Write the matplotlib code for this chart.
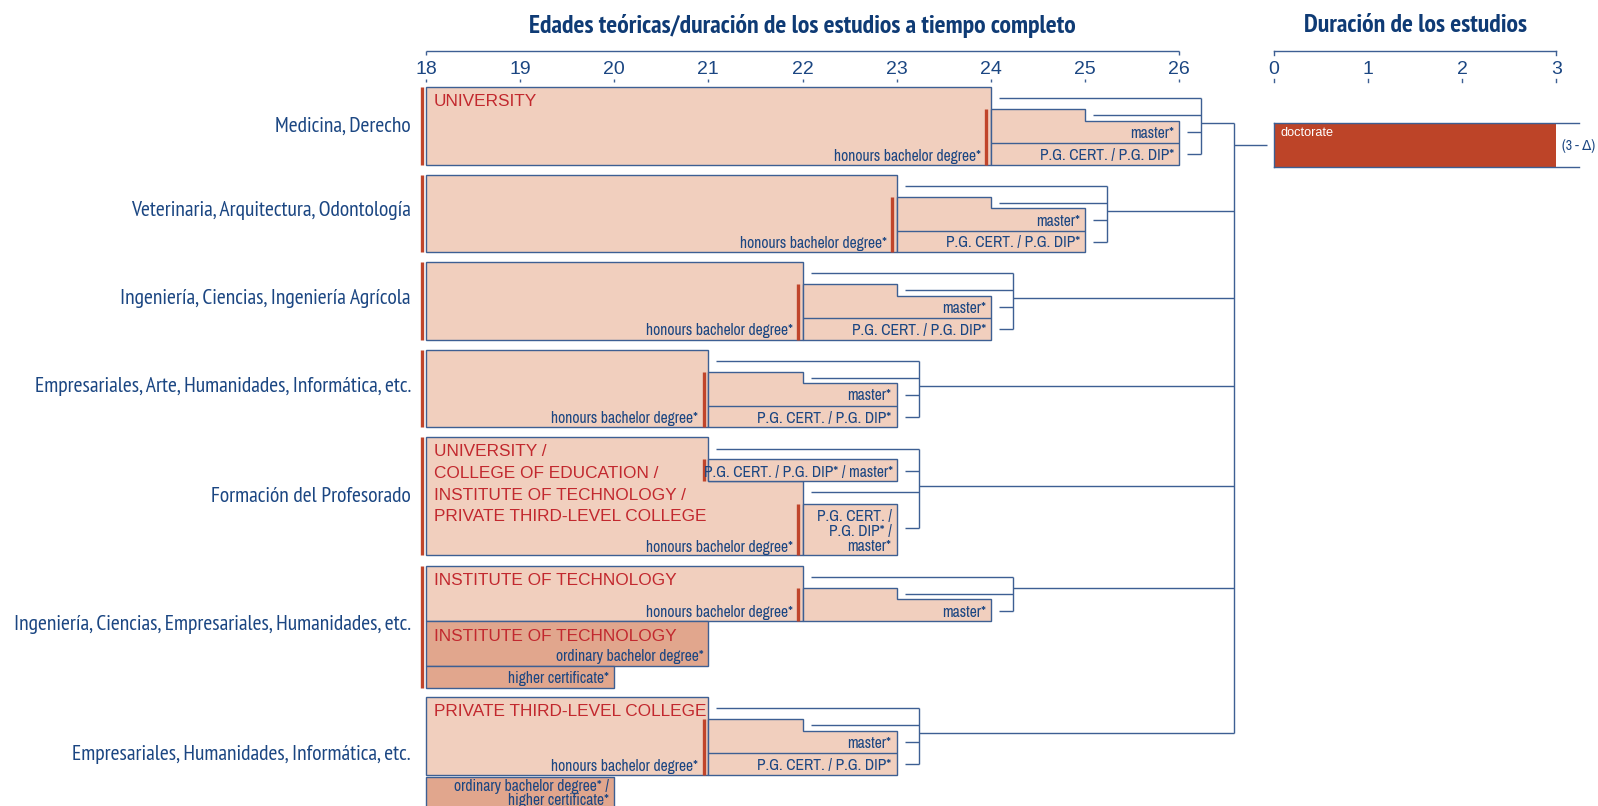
import matplotlib
matplotlib.use("Agg")
import matplotlib.pyplot as plt
from matplotlib.patches import Polygon, Rectangle
from matplotlib import font_manager

# ---------------- data ----------------
age_ticks = [18, 19, 20, 21, 22, 23, 24, 25, 26]
dur_ticks = [0, 1, 2, 3]
main_title = "Edades teóricas/duración de los estudios a tiempo completo"
dur_title = "Duración de los estudios"

row_labels = ["Medicina, Derecho",
              "Veterinaria, Arquitectura, Odontología",
              "Ingeniería, Ciencias, Ingeniería Agrícola",
              "Empresariales, Arte, Humanidades, Informática, etc.",
              "Formación del Profesorado",
              "Ingeniería, Ciencias, Empresariales, Humanidades, etc.",
              "Empresariales, Humanidades, Informática, etc."]

start_age = 18
honours_end = [24, 23, 22, 21, 22, 22, 21]
pg_years = 1
master_years = 2
institution = ["UNIVERSITY", "", "", "",
               "UNIVERSITY /\nCOLLEGE OF EDUCATION /\nINSTITUTE OF TECHNOLOGY /\nPRIVATE THIRD-LEVEL COLLEGE",
               "INSTITUTE OF TECHNOLOGY",
               "PRIVATE THIRD-LEVEL COLLEGE"]
post_kind = ["mp", "mp", "mp", "mp", "teacher", "m", "mp"]
left_bar = [True, True, True, True, True, True, False]

# teacher training row
teacher_ba_end = 21
teacher_pg_a = (21, 23)
teacher_pg_b = (22, 23)
# institute of technology lower awards
it_ordinary = (18, 21)
it_higher = (18, 20)
private_ord_higher = (18, 20)

doc_years = 3

hon_text = "honours bachelor degree*"
master_text = "master*"
pg_text = "P.G. CERT. / P.G. DIP*"
pg_master_text = "P.G. CERT. / P.G. DIP* / master*"
pg_master_lines = ["P.G. CERT. /", "P.G. DIP* /", "master*"]
ord_text = "ordinary bachelor degree*"
hc_text = "higher certificate*"
ord_hc_lines = ["ordinary bachelor degree* /", "higher certificate*"]
doc_text = "doctorate"
doc_note = "(3 - Δ)"

# ---------------- layout / style ----------------
W, H = 1598, 806
PXY = 94.125      # pixels per year
X18 = 426         # pixel position of age 18
X0D = 1274        # pixel position of duration 0
row_top = [87, 174.5, 262, 349.5, 437, 565.6, 697]
label_y = [126, 211, 298.5, 387, 497, 624.5, 754]

LIGHT = "#f1cfbe"
DARK = "#e1a68d"
RED = "#c0452b"
DOC = "#bd4428"
RTEXT = "#c2282e"
BLUE = "#1b4682"
LINE = "#3d5f93"
TITLE = "#0f3b75"

names = {f.name for f in font_manager.fontManager.ttflist}


def pick(prefs):
    for n in prefs:
        if n in names:
            return [n, "DejaVu Sans"]
    return ["DejaVu Sans"]


LABELF = pick(["PT Sans Narrow", "Fira Sans Condensed", "Asap Condensed",
               "Archivo Narrow", "Liberation Sans Narrow"])
BOXF = pick(["Liberation Sans Narrow", "Archivo Narrow", "Roboto Condensed",
             "PT Sans Narrow", "Asap Condensed"])
ARIAL = ["Liberation Sans", "DejaVu Sans"]


def p(v):
    return v / PXY


fig = plt.figure(figsize=(W / 100, H / 100), dpi=100)
renderer = fig.canvas.get_renderer()


def fit(s, family, target, weight="normal"):
    t = fig.text(0, 0, s, fontsize=10, family=family, fontweight=weight)
    w = t.get_window_extent(renderer).width
    t.remove()
    return 10 * target / w


TITLE_SIZE = fit(main_title, LABELF, 551, "bold")
LABEL_SIZE = fit(row_labels[5], LABELF, 398)
BOX_SIZE = fit(hon_text, BOXF, 148)
NOTE_SIZE = fit(doc_note, BOXF, 33)

ax = fig.add_axes([0, 0, 1, 1])
ax.set_xlim(start_age - p(X18), start_age + p(W - X18))
ax.set_ylim(H, 0)
ax.axis("off")

ax2 = fig.add_axes([0, 0, 1, 1])
ax2.set_xlim(-X0D / PXY, (W - X0D) / PXY)
ax2.set_ylim(H, 0)
ax2.axis("off")
ax2.patch.set_alpha(0)

LW = 1.0


def box(pts, fc):
    ax.add_patch(Polygon(pts, closed=True, fc=fc, ec=LINE, lw=LW, zorder=2))


def rect(x0, x1, y0, y1, fc):
    box([(x0, y0), (x1, y0), (x1, y1), (x0, y1)], fc)


def hline(x0, x1, y):
    ax.plot([x0, x1], [y, y], color=LINE, lw=LW, zorder=3, solid_capstyle="butt")


def vline(x, y0, y1):
    ax.plot([x, x], [y0, y1], color=LINE, lw=LW, zorder=3, solid_capstyle="butt")


def redbar(x, y0, y1):
    ax.plot([x - p(4.5), x - p(4.5)], [y0, y1], color=RED, lw=2.4, zorder=4,
            solid_capstyle="butt")


def small(x, y, s, ha="right", color=BLUE):
    ax.text(x, y + 1.5, s, ha=ha, va="center", color=color, fontsize=BOX_SIZE,
            family=BOXF, zorder=5)


def redtext(x, y, s):
    ax.text(x, y + 2.5, s, ha="left", va="center", color=RTEXT, fontsize=12.4,
            family=ARIAL, zorder=5)


def red_lines(T, s):
    for k, line in enumerate(s.split("\n")):
        redtext(start_age + p(8), T + 12.5 + k * 21.5, line)


BIGX = max(honours_end) + master_years + p(55)
out_y = []

# ---------------- top axes ----------------
hline(age_ticks[0], age_ticks[-1], 50.5)
vline(age_ticks[0], 50.5, 55)
vline(age_ticks[-1], 50.5, 55)
for a in age_ticks:
    ax.text(a, 70, str(a), ha="center", va="center", color=BLUE, fontsize=14,
            family=ARIAL)
    vline(a, 78.5, 82)
ax.text((age_ticks[0] + age_ticks[-1]) / 2, 26, main_title, ha="center",
        va="center", color=TITLE, fontsize=TITLE_SIZE, fontweight="bold", family=LABELF)

ax2.plot([dur_ticks[0], dur_ticks[-1]], [50.5, 50.5], color=LINE, lw=LW)
for d in (dur_ticks[0], dur_ticks[-1]):
    ax2.plot([d, d], [50.5, 55], color=LINE, lw=LW)
for d in dur_ticks:
    ax2.text(d, 70, str(d), ha="center", va="center", color=BLUE, fontsize=14,
             family=ARIAL)
    ax2.plot([d, d], [78.5, 82], color=LINE, lw=LW)
ax2.text((dur_ticks[0] + dur_ticks[-1]) / 2, 26, dur_title, ha="center",
         va="center", color=TITLE, fontsize=TITLE_SIZE, fontweight="bold", family=LABELF)

# ---------------- rows ----------------
for i, lab in enumerate(row_labels):
    T = row_top[i]
    E = honours_end[i]
    kind = post_kind[i]
    ax.text(start_age - p(15), label_y[i], lab, ha="right", va="center",
            color=BLUE, fontsize=LABEL_SIZE, family=LABELF)

    if kind in ("mp", "m"):
        hb = 77.5 if kind == "mp" else 55
        rect(start_age, E, T, T + hb, LIGHT)
        box([(E, T + 22), (E + pg_years, T + 22), (E + pg_years, T + 33.5),
             (E + master_years, T + 33.5), (E + master_years, T + hb), (E, T + hb)], LIGHT)
        redbar(E, T + 22, T + hb)
        small(E - p(10), T + hb - 10, hon_text)
        small(E + master_years - p(5), T + 45, master_text)
        VX = E + master_years + p(22)
        hline(E + p(8), VX, T + 11)
        hline(E + pg_years + p(8), VX, T + 28)
        hline(E + master_years + p(8), VX, T + 45)
        last = T + 45
        if kind == "mp":
            hline(E, E + master_years, T + 56)
            small(E + master_years - p(5), T + 67, pg_text)
            hline(E + master_years + p(8), VX, T + 67)
            last = T + 67
            oy = T + 36
        else:
            oy = T + 22
        vline(VX, T + 11, last)
        hline(VX, BIGX, oy)
        out_y.append(oy)
        if institution[i]:
            red_lines(T, institution[i])
        bottom = T + hb
    else:
        # teacher training
        B = T + 118
        box([(start_age, T), (teacher_ba_end, T), (teacher_ba_end, T + 44),
             (E, T + 44), (E, B), (start_age, B)], LIGHT)
        rect(teacher_pg_a[0], teacher_pg_a[1], T + 22, T + 44, LIGHT)
        rect(teacher_pg_b[0], teacher_pg_b[1], T + 67, B, LIGHT)
        redbar(teacher_pg_a[0], T + 22, T + 44)
        redbar(teacher_pg_b[0], T + 67, B)
        small(teacher_pg_a[1] - p(4), T + 34, pg_master_text)
        for k, s in enumerate(pg_master_lines):
            small(teacher_pg_b[1] - p(5), T + 77.5 + k * 15.3, s)
        small(E - p(10), B - 9, hon_text)
        red_lines(T, institution[i])
        VX = teacher_pg_b[1] + p(22)
        hline(teacher_pg_a[0] + p(8), VX, T + 11.5)
        hline(teacher_pg_a[1] + p(8), VX, T + 34)
        hline(teacher_pg_b[0] + p(8), VX, T + 55)
        hline(teacher_pg_b[1] + p(8), VX, T + 91)
        vline(VX, T + 11.5, T + 91)
        oy = T + 49
        hline(VX, BIGX, oy)
        out_y.append(oy)
        bottom = B

    if i == 5:
        rect(it_ordinary[0], it_ordinary[1], T + 55, T + 100, DARK)
        redtext(start_age + p(8), T + 68, "INSTITUTE OF TECHNOLOGY")
        small(it_ordinary[1] - p(5), T + 89.5, ord_text)
        rect(it_higher[0], it_higher[1], T + 100, T + 122, DARK)
        small(it_higher[1] - p(5), T + 111.5, hc_text)
        bottom = T + 122
    if i == 6:
        rect(private_ord_higher[0], private_ord_higher[1], T + 79.5, T + 140, DARK)
        for k, s in enumerate(ord_hc_lines):
            small(private_ord_higher[1] - p(5), T + 88 + k * 14.5, s)

    if left_bar[i]:
        ax.plot([start_age - p(4), start_age - p(4)], [T, bottom], color=RED,
                lw=2.4, zorder=4, solid_capstyle="butt")

# big connector and doctorate
vline(BIGX, out_y[0], out_y[-1])
hline(BIGX, BIGX + p(33), 144.5)

ax2.add_patch(Rectangle((0, 122.7), doc_years, 44.6, fc=DOC, ec="none", zorder=2))
ax2.plot([0, doc_years + p(23)], [122.7, 122.7], color=LINE, lw=LW, zorder=3)
ax2.plot([0, doc_years + p(23)], [167.3, 167.3], color=LINE, lw=LW, zorder=3)
ax2.plot([0, 0], [122.7, 167.3], color=LINE, lw=LW, zorder=3)
ax2.text(p(6), 133, doc_text, ha="left", va="center", color="white",
         fontsize=9.2, family=ARIAL, zorder=5)
ax2.text(doc_years + p(6), 146, doc_note, ha="left", va="center", color=BLUE,
         fontsize=NOTE_SIZE, family=BOXF, zorder=5)

fig.savefig("out.png", dpi=100)
